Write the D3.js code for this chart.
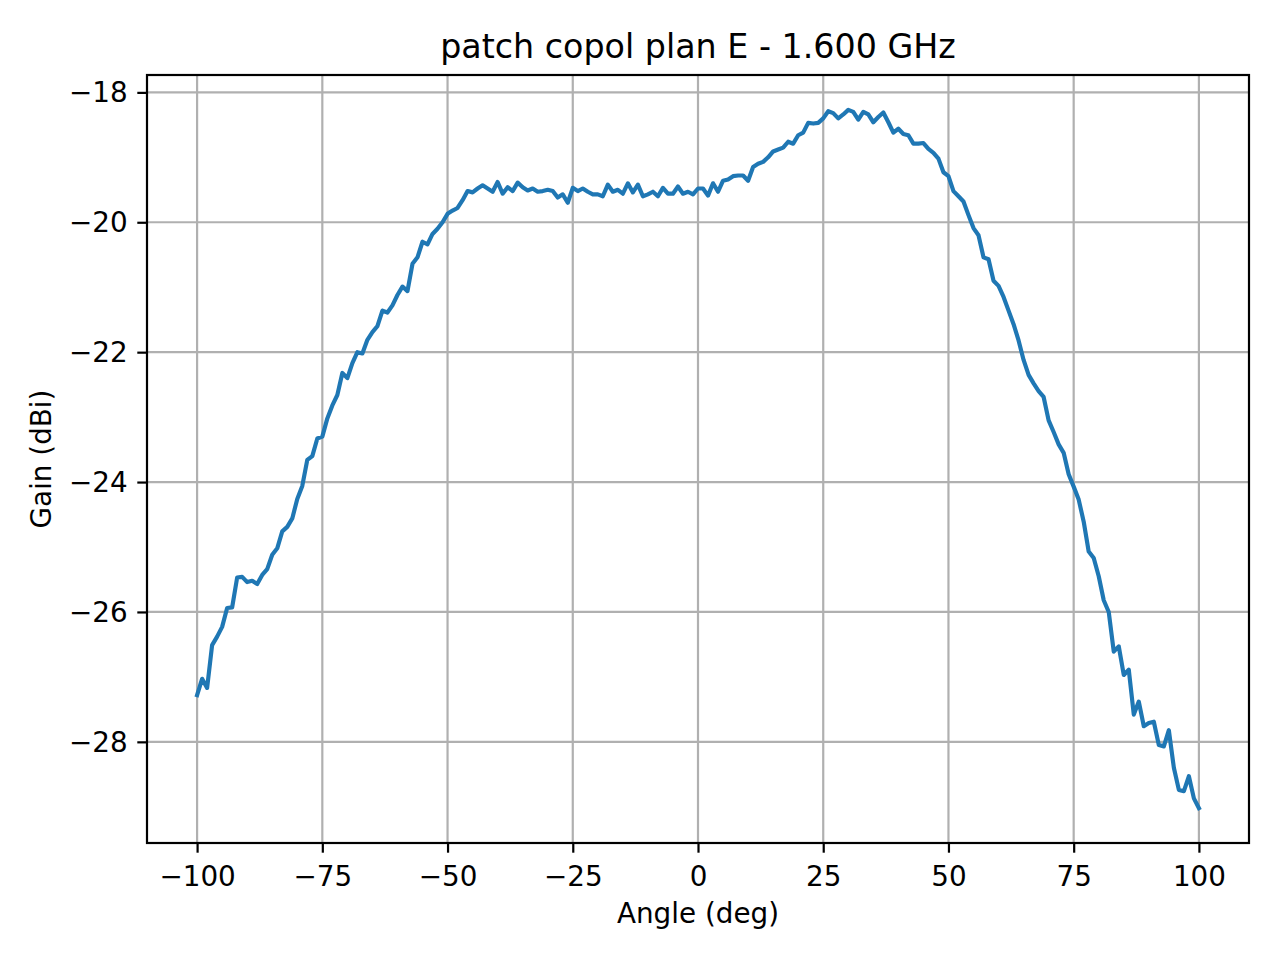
<!DOCTYPE html>
<html>
<head>
<meta charset="utf-8">
<script src="https://cdn.jsdelivr.net/npm/d3@7"></script>
<style>
  body { margin: 0; background: #fff; }
  svg { display: block; font-family: "DejaVu Sans", sans-serif; }
</style>
</head>
<body>
<svg id="chart"></svg>
<script>
// data, 1 degree steps
const angles = d3.range(-100, 101, 1);
const gain = [
  -27.28, -27.03, -27.17, -26.51, -26.38, -26.23, -25.94, -25.93, -25.47, -25.46,
  -25.54, -25.52, -25.57, -25.43, -25.34, -25.12, -25.02, -24.76, -24.69, -24.56,
  -24.26, -24.06, -23.66, -23.60, -23.33, -23.30, -23.02, -22.82, -22.66, -22.32,
  -22.40, -22.17, -22.00, -22.02, -21.81, -21.69, -21.60, -21.36, -21.39, -21.28,
  -21.12, -20.99, -21.06, -20.64, -20.54, -20.30, -20.34, -20.18, -20.10, -20.00,
  -19.87, -19.82, -19.78, -19.66, -19.52, -19.54, -19.48, -19.43, -19.48, -19.53,
  -19.38, -19.56, -19.46, -19.52, -19.39, -19.46, -19.51, -19.48, -19.53, -19.52,
  -19.50, -19.52, -19.62, -19.57, -19.70, -19.47, -19.52, -19.48, -19.53, -19.57,
  -19.57, -19.60, -19.42, -19.53, -19.50, -19.56, -19.40, -19.54, -19.42, -19.60,
  -19.57, -19.53, -19.60, -19.47, -19.56, -19.56, -19.45, -19.56, -19.53, -19.57,
  -19.48,
  -19.48, -19.59, -19.40, -19.53, -19.36, -19.34, -19.29, -19.28, -19.28, -19.36,
  -19.15, -19.10, -19.07, -19.00, -18.91, -18.88, -18.85, -18.76, -18.79, -18.66,
  -18.62, -18.47, -18.48, -18.47, -18.40, -18.29, -18.32, -18.40, -18.34, -18.27,
  -18.30, -18.42, -18.30, -18.34, -18.46, -18.38, -18.31, -18.46, -18.62, -18.56,
  -18.64, -18.66, -18.79, -18.79, -18.78, -18.87, -18.93, -19.02, -19.23, -19.29,
  -19.52, -19.60, -19.68, -19.89, -20.09, -20.20, -20.54, -20.57, -20.90, -20.98,
  -21.15, -21.36, -21.57, -21.82, -22.12, -22.35, -22.48, -22.60, -22.69, -23.05,
  -23.23, -23.42, -23.55, -23.88, -24.07, -24.27, -24.61, -25.07, -25.17, -25.45,
  -25.82, -26.00, -26.61, -26.53, -26.97, -26.89, -27.58, -27.38, -27.76, -27.71,
  -27.69, -28.05, -28.07, -27.82, -28.40, -28.74, -28.76, -28.53, -28.87, -29.02
];
const xTicks = [-100, -75, -50, -25, 0, 25, 50, 75, 100];
const yTicks = [-28, -26, -24, -22, -20, -18];
const title = 'patch copol plan E - 1.600 GHz';
const xLabel = 'Angle (deg)';
const yLabel = 'Gain (dBi)';

// set up svg

const w = 1280;
const h = 960;
const margin = { top: 75, right: 31, bottom: 117, left: 147 };
const iw = w - margin.left - margin.right;
const ih = h - margin.top - margin.bottom;
const fontSize = 27.8;

const svg = d3.select('#chart')
    .attr('width', w)
    .attr('height', h);

svg.append('rect')
    .attr('width', w)
    .attr('height', h)
    .attr('fill', '#fff');

const g = svg.append('g')
    .attr('transform', `translate(${margin.left},${margin.top})`);

// set up scaling (5% padding like matplotlib)

const points = angles.map((a, i) => [a, gain[i]]);
const [x0, x1] = d3.extent(angles);
const [y0, y1] = d3.extent(gain);
const xPad = (x1 - x0) * 0.05;
const yPad = (y1 - y0) * 0.05;

const xScale = d3.scaleLinear()
    .domain([x0 - xPad, x1 + xPad])
    .range([0, iw]);

const yScale = d3.scaleLinear()
    .domain([y0 - yPad, y1 + yPad])
    .range([ih, 0]);

// grid

g.append('g')
    .selectAll('line')
    .data(xTicks)
    .join('line')
    .attr('x1', d => xScale(d))
    .attr('x2', d => xScale(d))
    .attr('y1', 0)
    .attr('y2', ih)
    .attr('stroke', '#b0b0b0')
    .attr('stroke-width', 2.2);

g.append('g')
    .selectAll('line')
    .data(yTicks)
    .join('line')
    .attr('x1', 0)
    .attr('x2', iw)
    .attr('y1', d => yScale(d))
    .attr('y2', d => yScale(d))
    .attr('stroke', '#b0b0b0')
    .attr('stroke-width', 2.2);

// line

g.append('clipPath')
    .attr('id', 'clip')
    .append('rect')
    .attr('width', iw)
    .attr('height', ih);

const line = d3.line()
    .x(d => xScale(d[0]))
    .y(d => yScale(d[1]));

g.append('path')
    .datum(points)
    .attr('clip-path', 'url(#clip)')
    .attr('d', line)
    .attr('fill', 'none')
    .attr('stroke', '#1f77b4')
    .attr('stroke-width', 4.17)
    .attr('stroke-linejoin', 'round')
    .attr('stroke-linecap', 'square');

// axes

const xAxis = d3.axisBottom(xScale)
    .tickValues(xTicks)
    .tickSize(9.7)
    .tickPadding(9.7)
    .tickFormat(d3.format('d'));

const yAxis = d3.axisLeft(yScale)
    .tickValues(yTicks)
    .tickSize(9.7)
    .tickPadding(9.7)
    .tickFormat(d3.format('d'));

const gx = g.append('g')
    .attr('transform', `translate(0,${ih})`)
    .call(xAxis);

const gy = g.append('g')
    .call(yAxis);

[gx, gy].forEach(ax => {
    ax.select('.domain').remove();
    ax.selectAll('line').attr('stroke', '#000').attr('stroke-width', 2.2);
    ax.selectAll('text')
        .attr('fill', '#000')
        .style('font-family', '"DejaVu Sans", sans-serif')
        .style('font-size', fontSize + 'px');
});
gx.selectAll('text').attr('dy', '0.84em');
gy.selectAll('text').attr('dy', '0.34em');

// frame

g.append('rect')
    .attr('width', iw)
    .attr('height', ih)
    .attr('fill', 'none')
    .attr('stroke', '#000')
    .attr('stroke-width', 2.2);

// labels

svg.append('text')
    .attr('x', margin.left + iw / 2)
    .attr('y', 58)
    .attr('text-anchor', 'middle')
    .style('font-size', '33.3px')
    .text(title);

svg.append('text')
    .attr('x', margin.left + iw / 2)
    .attr('y', 923)
    .attr('text-anchor', 'middle')
    .style('font-size', fontSize + 'px')
    .text(xLabel);

svg.append('text')
    .attr('transform', `translate(51,${margin.top + ih / 2}) rotate(-90)`)
    .attr('text-anchor', 'middle')
    .style('font-size', fontSize + 'px')
    .text(yLabel);
</script>
</body>
</html>
